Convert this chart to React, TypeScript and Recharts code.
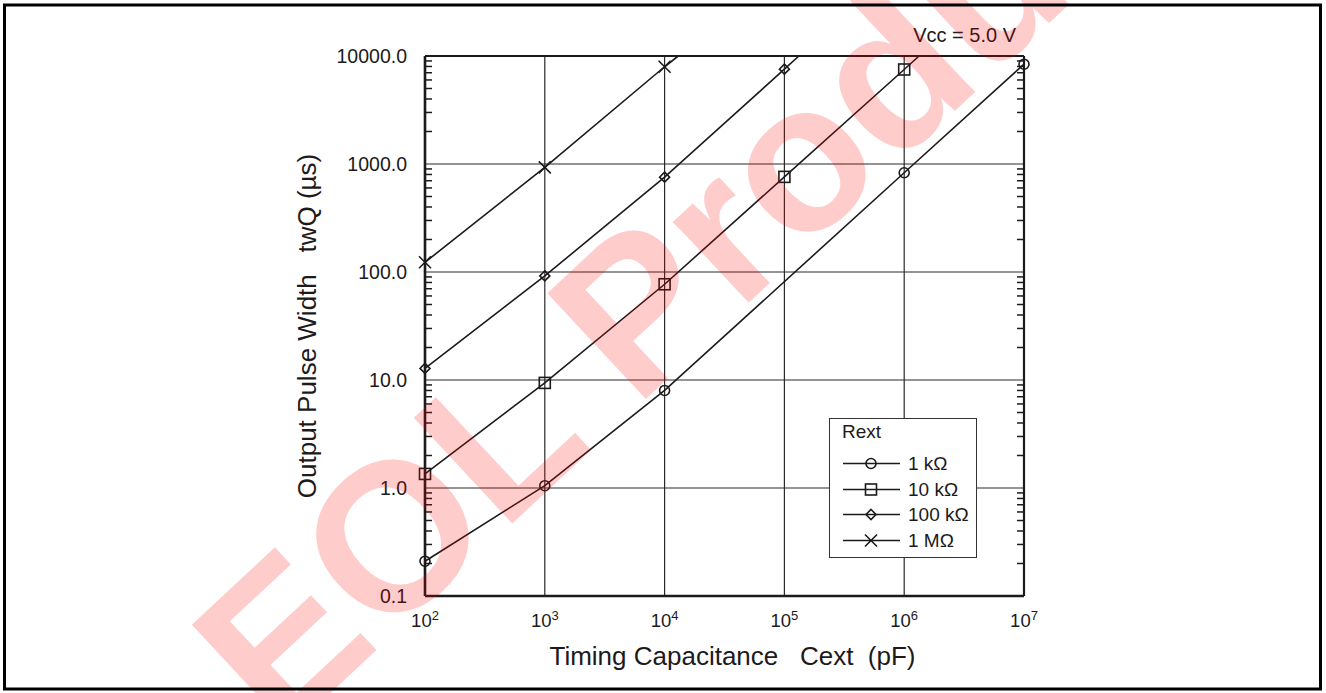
import React from 'react';
import { LineChart, Line, XAxis, YAxis, CartesianGrid, Legend } from 'recharts';

const FONT = 'Arial, "Liberation Sans", Helvetica, sans-serif';
const INK = '#1c1a1b';

// axis ticks
const capDecades = [100, 1000, 10000, 100000, 1000000, 10000000];
const widthDecades = [0.1, 1, 10, 100, 1000, 10000];
const minorSteps = [2, 3, 4, 5, 6, 7, 8, 9];
const capMinor = capDecades.slice(0, -1).flatMap((d) => minorSteps.map((m) => d * m));
const widthMinor = widthDecades.slice(0, -1).flatMap((d) => minorSteps.map((m) => +(d * m).toPrecision(3)));

// output pulse width (us) vs timing capacitance (pF), one array per Rext
const rext1k = [
  { c: 100, t: 0.21 },
  { c: 1000, t: 1.05 },
  { c: 10000, t: 8.0 },
  { c: 1000000, t: 830 },
  { c: 10000000, t: 8400 },
];
const rext10k = [
  { c: 100, t: 1.35 },
  { c: 1000, t: 9.4 },
  { c: 10000, t: 77 },
  { c: 100000, t: 760 },
  { c: 1000000, t: 7500 },
  { c: 1330000, t: 10000 },
];
const rext100k = [
  { c: 100, t: 12.8 },
  { c: 1000, t: 92 },
  { c: 10000, t: 755 },
  { c: 100000, t: 7550 },
  { c: 132000, t: 10000 },
];
const rext1M = [
  { c: 100, t: 123 },
  { c: 1000, t: 930 },
  { c: 10000, t: 7950 },
  { c: 13000, t: 10000 },
];

const series = [
  { name: '1 k\u03A9', data: rext1k, marker: 'circle' },
  { name: '10 k\u03A9', data: rext10k, marker: 'square' },
  { name: '100 k\u03A9', data: rext100k, marker: 'diamond' },
  { name: '1 M\u03A9', data: rext1M, marker: 'cross' },
];

const Marker = ({ kind, cx, cy }: { kind: string; cx: number; cy: number }) => {
  const common = { fill: 'none', stroke: INK, strokeWidth: 1.6 };
  if (kind === 'circle') return <circle cx={cx} cy={cy} r={5} {...common} />;
  if (kind === 'square') return <rect x={cx - 5.5} y={cy - 5.5} width={11} height={11} {...common} />;
  if (kind === 'diamond')
    return <path d={`M${cx},${cy - 5}L${cx + 5},${cy}L${cx},${cy + 5}L${cx - 5},${cy}Z`} {...common} />;
  return <path d={`M${cx - 6},${cy - 6}L${cx + 6},${cy + 6}M${cx + 6},${cy - 6}L${cx - 6},${cy + 6}`} {...common} />;
};

const makeDot = (kind: string) => (p: any) => {
  if (p.cx == null || p.cy == null || p.payload.t >= 10000) return <g key={`dot-${p.index}`} />;
  return (
    <g key={`dot-${p.index}`}>
      <Marker kind={kind} cx={p.cx} cy={p.cy} />
    </g>
  );
};

const CapTick = ({ x, y, payload }: any) => (
  <text x={x} y={y + 31} textAnchor="middle" fontFamily={FONT} fontSize={18.5} fill={INK}>
    <tspan>10</tspan>
    <tspan dy={-7} fontSize={13}>{Math.round(Math.log10(payload.value))}</tspan>
  </text>
);

const Blank = () => <g />;

const LegendBox = ({ payload }: any) => {
  const items = [...(payload ?? [])].sort(
    (a: any, b: any) => series.findIndex((s) => s.name === a.value) - series.findIndex((s) => s.name === b.value)
  );
  return (
    <div
      style={{
        position: 'relative',
        boxSizing: 'border-box',
        width: 148,
        height: 140,
        border: '1px solid #333',
        background: '#fff',
        fontFamily: FONT,
        fontSize: 19,
        color: INK,
      }}
    >
      <div style={{ position: 'absolute', left: 12, top: 2, lineHeight: '22px' }}>Rext</div>
      {items.map((e: any, i: number) => {
        const s = series.find((k) => k.name === e.value);
        return (
          <div key={e.value} style={{ position: 'absolute', left: 12, top: 32 + i * 25.6, height: 25, width: 134 }}>
            <svg width={60} height={25} style={{ position: 'absolute', left: 0, top: 0 }}>
              <line x1={1} x2={58} y1={12.5} y2={12.5} stroke={INK} strokeWidth={1.6} />
              <Marker kind={s ? s.marker : 'circle'} cx={29} cy={12.5} />
            </svg>
            <span style={{ position: 'absolute', left: 66, top: 0, lineHeight: '25px', whiteSpace: 'nowrap' }}>
              {e.value}
            </span>
          </div>
        );
      })}
    </div>
  );
};

const minorTickLine = { stroke: INK, strokeWidth: 1.5 };

export default function App() {
  return (
    <div style={{ position: 'absolute', left: 0, top: 0, width: 1326, height: 693, background: '#fff' }}>
      <LineChart width={1326} height={693} margin={{ top: 56, right: 302, bottom: 37, left: 365 }}>
        <CartesianGrid stroke="#2a2a2a" strokeWidth={1.2} />
        <XAxis
          dataKey="c"
          type="number"
          scale="log"
          domain={[100, 10000000]}
          ticks={capDecades}
          interval={0}
          height={60}
          tickLine={false}
          tickSize={0}
          tickMargin={0}
          tick={<CapTick />}
          axisLine={{ stroke: INK, strokeWidth: 2.6 }}
          label={{
            content: ({ viewBox }: any) => (
              <text
                x={viewBox.x + viewBox.width / 2 + 8}
                y={viewBox.y + 69}
                textAnchor="middle"
                fontFamily={FONT}
                fontSize={26}
                fill={INK}
                style={{ whiteSpace: 'pre' }}
              >
                {'Timing Capacitance   Cext  (pF)'}
              </text>
            ),
          }}
        />
        <XAxis
          xAxisId="minorBottom"
          type="number"
          scale="log"
          domain={[100, 10000000]}
          allowDataOverflow
          ticks={capMinor}
          interval={0}
          orientation="bottom"
          mirror
          tickSize={7}
          tick={<Blank />}
          axisLine={false}
          tickLine={minorTickLine}
        />
        <XAxis
          xAxisId="minorTop"
          type="number"
          scale="log"
          domain={[100, 10000000]}
          allowDataOverflow
          ticks={capMinor}
          interval={0}
          orientation="top"
          mirror
          tickSize={7}
          tick={<Blank />}
          axisLine={{ stroke: INK, strokeWidth: 2.2 }}
          tickLine={minorTickLine}
        />
        <YAxis
          type="number"
          scale="log"
          domain={[0.1, 10000]}
          ticks={widthDecades}
          interval={0}
          width={60}
          tickLine={false}
          tickSize={0}
          tickMargin={18}
          tickFormatter={(v: number) => v.toFixed(1)}
          tick={{ fontFamily: FONT, fontSize: 19.5, fill: INK }}
          axisLine={{ stroke: INK, strokeWidth: 2.6 }}
          label={{
            content: ({ viewBox }: any) => {
              const x = viewBox.x - 49;
              const y = viewBox.y + viewBox.height / 2;
              return (
                <text
                  x={x}
                  y={y}
                  transform={`rotate(-90 ${x} ${y})`}
                  textAnchor="middle"
                  fontFamily={FONT}
                  fontSize={26}
                  fill={INK}
                  style={{ whiteSpace: 'pre' }}
                >
                  {'Output Pulse Width   twQ (\u00B5s)'}
                </text>
              );
            },
          }}
        />
        <YAxis
          yAxisId="minorLeft"
          type="number"
          scale="log"
          domain={[0.1, 10000]}
          allowDataOverflow
          ticks={widthMinor}
          interval={0}
          orientation="left"
          mirror
          tickSize={7}
          tick={<Blank />}
          axisLine={false}
          tickLine={minorTickLine}
        />
        <YAxis
          yAxisId="minorRight"
          type="number"
          scale="log"
          domain={[0.1, 10000]}
          allowDataOverflow
          ticks={widthMinor}
          interval={0}
          orientation="right"
          mirror
          tickSize={7}
          tick={<Blank />}
          axisLine={{ stroke: INK, strokeWidth: 2.2 }}
          tickLine={minorTickLine}
        />
        {series.map((s) => (
          <Line
            key={s.name}
            name={s.name}
            data={s.data}
            dataKey="t"
            type="linear"
            stroke={INK}
            strokeWidth={1.6}
            dot={makeDot(s.marker)}
            activeDot={false}
            isAnimationActive={false}
          />
        ))}
        <Legend
          layout="vertical"
          align="center"
          verticalAlign="middle"
          content={<LegendBox />}
          wrapperStyle={{ left: 829, top: 418, width: 148, height: 140 }}
        />
      </LineChart>
      <svg width={1326} height={693} style={{ position: 'absolute', left: 0, top: 0, pointerEvents: 'none' }}>
        <text x={1016} y={42} textAnchor="end" fontFamily={FONT} fontSize={20} fill={INK}>
          Vcc = 5.0 V
        </text>
        <text
          x={280}
          y={740}
          transform="rotate(-43 280 740)"
          fontFamily={FONT}
          fontWeight="bold"
          fontSize={210}
          fill="#ff0000"
          fillOpacity={0.2}
        >
          EOL Product
        </text>
        <rect x={4.5} y={5} width={1316} height={684} fill="none" stroke="#000" strokeWidth={3} />
      </svg>
    </div>
  );
}
